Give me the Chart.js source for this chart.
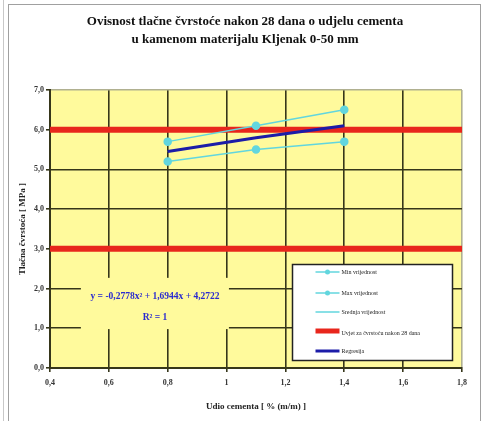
<!DOCTYPE html>
<html>
<head>
<meta charset="utf-8">
<script src="https://cdn.jsdelivr.net/npm/chart.js@4/dist/chart.umd.min.js"></script>
<style>
  html, body { margin: 0; padding: 0; background: #ffffff; }
  #wrap { position: relative; width: 484px; height: 421px; }
  canvas { display: block; }
</style>
</head>
<body>
<div id="wrap"><canvas id="c" width="484" height="421"></canvas></div>
<script>
// ---- data ----
const titleLines = ['Ovisnost tlačne čvrstoće nakon 28 dana o udjelu cementa', 'u kamenom materijalu Kljenak 0-50 mm'];
const xAxisTitle = 'Udio cementa [ % (m/m) ]';
const yAxisTitle = 'Tlačna čvrstoća [ MPa ]';
const cementShare = [0.8, 1.1, 1.4];
const minValues = [5.2, 5.5, 5.7];
const maxValues = [5.7, 6.1, 6.5];
const avgValues = [5.45, 5.8, 6.1];
const regressionValues = [5.45, 5.8, 6.1];
const conditionLevels = [3.0, 6.0];
const xRange = [0.4, 1.8];
const yRange = [0, 7];
const xTickLabels = ['0,4', '0,6', '0,8', '1', '1,2', '1,4', '1,6', '1,8'];
const yTickLabels = ['0,0', '1,0', '2,0', '3,0', '4,0', '5,0', '6,0', '7,0'];
const seriesNames = ['Min vrijednost', 'Max vrijednost', 'Srednja vrijednost', 'Uvjet za čvrstoću nakon 28 dana', 'Regresija'];
const equationText = ['y = -0,2778x² + 1,6944x + 4,2722', 'R² = 1'];

// ---- styles ----
const CYAN = '#62d6de';
const RED = '#e8261c';
const BLUE = '#1c1ca8';
const GRID = '#36361a';
const PLOT_BG = '#fffa9c';
const SERIF = '"Liberation Serif", "Times New Roman", serif';

const pts = (xs, ys) => xs.map((x, i) => ({ x: x, y: ys[i] }));

const datasets = [
  { label: seriesNames[0], data: pts(cementShare, minValues), borderColor: CYAN, backgroundColor: CYAN,
    borderWidth: 1.5, pointRadius: 3.5, pointBackgroundColor: CYAN, pointBorderColor: CYAN, order: 1, kind: 'marker' },
  { label: seriesNames[1], data: pts(cementShare, maxValues), borderColor: CYAN, backgroundColor: CYAN,
    borderWidth: 1.5, pointRadius: 3.5, pointBackgroundColor: CYAN, pointBorderColor: CYAN, order: 2, kind: 'marker' },
  { label: seriesNames[2], data: pts(cementShare, avgValues), borderColor: CYAN, backgroundColor: CYAN,
    borderWidth: 1.5, pointRadius: 0, order: 5, kind: 'line' },
  { label: seriesNames[3], data: pts(xRange, [conditionLevels[0], conditionLevels[0]]), borderColor: RED, backgroundColor: RED,
    borderWidth: 6, pointRadius: 0, order: 6, kind: 'line' },
  { label: seriesNames[3], data: pts(xRange, [conditionLevels[1], conditionLevels[1]]), borderColor: RED, backgroundColor: RED,
    borderWidth: 6, pointRadius: 0, order: 7, kind: 'line', hideInLegend: true },
  { label: seriesNames[4], data: pts(cementShare, regressionValues), borderColor: BLUE, backgroundColor: BLUE,
    borderWidth: 3, pointRadius: 0, order: 3, kind: 'line' }
];

const decorPlugin = {
  id: 'decor',
  beforeDraw(chart) {
    const { ctx, chartArea: a } = chart;
    ctx.save();
    ctx.fillStyle = PLOT_BG;
    ctx.fillRect(a.left, a.top, a.right - a.left, a.bottom - a.top);
    // outer frame
    ctx.strokeStyle = '#a0a0a0';
    ctx.lineWidth = 1;
    ctx.strokeRect(8.5, 4.5, 472, 440);
    ctx.strokeStyle = '#c8c8c8';
    ctx.beginPath(); ctx.moveTo(3.5, 0); ctx.lineTo(3.5, 421); ctx.stroke();
    // title
    ctx.fillStyle = '#111';
    ctx.font = 'bold 13px ' + SERIF;
    ctx.textAlign = 'center';
    ctx.textBaseline = 'middle';
    ctx.fillText(titleLines[0], 245, 22);
    ctx.fillText(titleLines[1], 245, 40);
    ctx.restore();
  },
  beforeDatasetsDraw(chart) {
    const { ctx, scales: { x, y } } = chart;
    // equation label box (yellow, hides grid)
    const l = x.getPixelForValue(0.505), r = x.getPixelForValue(1.008);
    const t = y.getPixelForValue(2.27), b = y.getPixelForValue(0.98);
    ctx.save();
    ctx.fillStyle = PLOT_BG;
    ctx.fillRect(l, t, r - l, b - t);
    ctx.fillStyle = '#2a2ad0';
    ctx.font = 'bold 9.5px ' + SERIF;
    ctx.textAlign = 'center';
    ctx.textBaseline = 'middle';
    const cx = x.getPixelForValue(0.757);
    ctx.fillText(equationText[0], cx, y.getPixelForValue(1.79));
    ctx.fillText(equationText[1], cx, y.getPixelForValue(1.28));
    ctx.restore();
  },
  afterDatasetsDraw(chart) {
    const { ctx, scales: { x, y } } = chart;
    const l = Math.round(x.getPixelForValue(1.222)) + 0.5, r = Math.round(x.getPixelForValue(1.766)) + 0.5;
    const t = Math.round(y.getPixelForValue(2.62)) + 0.5, b = Math.round(y.getPixelForValue(0.2)) + 0.5;
    ctx.save();
    ctx.fillStyle = '#ffffff';
    ctx.fillRect(l, t, r - l, b - t);
    ctx.strokeStyle = '#222';
    ctx.lineWidth = 1.5;
    ctx.strokeRect(l, t, r - l, b - t);
    const entries = chart.data.datasets.filter(d => !d.hideInLegend);
    const rowY = [272, 293, 312, 331, 351];
    ctx.font = '6px ' + SERIF;
    ctx.textAlign = 'left';
    ctx.textBaseline = 'middle';
    entries.forEach((d, i) => {
      const yy = rowY[i];
      const x0 = l + 23, x1 = l + 47;
      ctx.strokeStyle = d.borderColor;
      ctx.lineWidth = Math.min(d.borderWidth, 5);
      ctx.beginPath(); ctx.moveTo(x0, yy); ctx.lineTo(x1, yy); ctx.stroke();
      if (d.kind === 'marker') {
        ctx.fillStyle = d.borderColor;
        ctx.beginPath(); ctx.arc((x0 + x1) / 2, yy, 2.5, 0, Math.PI * 2); ctx.fill();
      }
      ctx.fillStyle = '#222';
      ctx.fillText(d.label, x1 + 2, yy + (d.borderWidth > 4 ? 2 : 0));
    });
    ctx.restore();
  }
};

new Chart(document.getElementById('c'), {
  type: 'line',
  data: { datasets: datasets },
  plugins: [decorPlugin],
  options: {
    responsive: false,
    animation: false,
    devicePixelRatio: 1,
    layout: { padding: { top: 90, left: 10, right: 22, bottom: 5 } },
    plugins: { legend: { display: false }, title: { display: false }, tooltip: { enabled: false } },
    elements: { line: { tension: 0 } },
    scales: {
      x: {
        type: 'linear', min: xRange[0], max: xRange[1],
        afterFit(s) { s.height = 48; },
        afterBuildTicks(s) { s.ticks = xTickLabels.map((_, i) => ({ value: xRange[0] + i * 0.2 })); },
        ticks: {
          autoSkip: false, maxRotation: 0, padding: 6, color: '#333',
          font: { family: SERIF, size: 8, weight: 'bold' },
          callback: (v, i) => xTickLabels[i]
        },
        grid: {
          color: ctx => (ctx.index === xTickLabels.length - 1 ? '#b0b090' : GRID),
          tickColor: GRID, lineWidth: 1.6, tickLength: 4
        },
        border: { display: true, color: GRID, width: 2 },
        title: { display: true, text: xAxisTitle, color: '#222', font: { family: SERIF, size: 9, weight: 'bold' }, padding: { top: 0, bottom: 4 } }
      },
      y: {
        type: 'linear', min: yRange[0], max: yRange[1],
        afterFit(s) { s.width = 40; },
        afterBuildTicks(s) { s.ticks = yTickLabels.map((_, i) => ({ value: yRange[0] + i })); },
        ticks: {
          autoSkip: false, padding: 2, color: '#333',
          font: { family: SERIF, size: 8, weight: 'bold' },
          callback: (v, i) => yTickLabels[i]
        },
        grid: {
          color: ctx => (ctx.index === yTickLabels.length - 1 ? '#b0b090' : GRID),
          tickColor: GRID, lineWidth: 1.6, tickLength: 4
        },
        border: { display: true, color: GRID, width: 2 },
        title: { display: true, text: yAxisTitle, color: '#222', font: { family: SERIF, size: 9, weight: 'bold' }, padding: { top: 7, bottom: 0 } }
      }
    }
  }
});
</script>
</body>
</html>
